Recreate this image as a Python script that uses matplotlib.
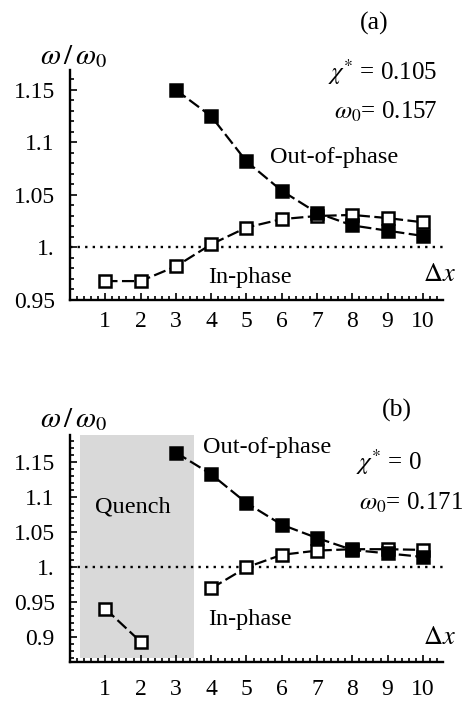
import matplotlib
matplotlib.use('Agg')
import matplotlib.pyplot as plt
from matplotlib.ticker import MultipleLocator, FixedLocator, FixedFormatter

plt.rcParams['font.family'] = ['Liberation Serif', 'DejaVu Serif']
plt.rcParams['mathtext.fontset'] = 'stix'

# panel (a): chi* = 0.105
xA = [1, 2, 3, 4, 5, 6, 7, 8, 9, 10]
inA = [0.968, 0.968, 0.982, 1.003, 1.019, 1.027, 1.030, 1.031, 1.028, 1.024]
xOutA = [3, 4, 5, 6, 7, 8, 9, 10]
outA = [1.150, 1.125, 1.082, 1.054, 1.033, 1.021, 1.016, 1.011]

# panel (b): chi* = 0
xInB1 = [1, 2]
inB1 = [0.940, 0.893]
xInB2 = [4, 5, 6, 7, 8, 9, 10]
inB2 = [0.969, 0.999, 1.017, 1.023, 1.025, 1.025, 1.024]
xOutB = [3, 4, 5, 6, 7, 8, 9, 10]
outB = [1.163, 1.132, 1.091, 1.060, 1.041, 1.024, 1.019, 1.014]

yticksA = [0.95, 1.0, 1.05, 1.1, 1.15]
ylabelsA = ['0.95', '1.', '1.05', '1.1', '1.15']
yticksB = [0.9, 0.95, 1.0, 1.05, 1.1, 1.15]
ylabelsB = ['0.9', '0.95', '1.', '1.05', '1.1', '1.15']

W, H = 466, 701
fig = plt.figure(figsize=(W / 100, H / 100), dpi=100)


def px(x, y):
    return x / W, 1 - y / H


def make_axes(rect, ylim, yticks, ylabels, xpad):
    ax = fig.add_axes(rect)
    for s in ['top', 'right']:
        ax.spines[s].set_visible(False)
    for s in ['left', 'bottom']:
        ax.spines[s].set_linewidth(1.7)
    ax.set_xlim(0, 10.57)
    ax.set_ylim(*ylim)
    ax.xaxis.set_major_locator(FixedLocator(range(1, 11)))
    ax.xaxis.set_minor_locator(MultipleLocator(0.2))
    ax.yaxis.set_major_locator(FixedLocator(yticks))
    ax.yaxis.set_major_formatter(FixedFormatter(ylabels))
    ax.yaxis.set_minor_locator(MultipleLocator(0.01))
    ax.tick_params(which='both', direction='in', width=1.2, labelsize=17)
    ax.tick_params(which='major', length=5)
    ax.tick_params(which='minor', length=3)
    ax.tick_params(axis='x', which='major', pad=8 + xpad - 9)
    ax.tick_params(axis='y', which='major', pad=11)
    ax.axhline(1.0, color='black', lw=1.7, linestyle=(0, (1.0, 2.2)))
    return ax


def draw(ax, x, y, filled):
    ax.plot(x, y, color='black', lw=1.6, linestyle=(0, (5.5, 2)),
            marker='s', markersize=9 if filled else 8.5,
            markerfacecolor='black' if filled else 'white',
            markeredgecolor='black', markeredgewidth=1.8, clip_on=False)


# ---- panel (a)
axA = make_axes([70 / W, 1 - 300 / H, 373 / W, 230 / H], (0.95, 1.169),
                yticksA, ylabelsA, 9)
draw(axA, xA, inA, False)
draw(axA, xOutA, outA, True)

# ---- panel (b)
axB = make_axes([70 / W, 1 - 662 / H, 373 / W, 227 / H], (0.864, 1.188),
                yticksB, ylabelsB, 13)
axB.axvspan(0.27, 3.5, ymin=0.017, ymax=1.0, color='#d9d9d9', lw=0, zorder=0)
draw(axB, xInB1, inB1, False)
draw(axB, xInB2, inB2, False)
draw(axB, xOutB, outB, True)

# ---- text labels
fs = 17.5
fig.text(*px(40, 57), r'$\omega\,/\,\omega_0$', fontsize=21, va='center', ha='left')
fig.text(*px(374, 23), '(a)', fontsize=18.5, va='center', ha='center')
fig.text(*px(437, 72), r'$\chi^{*}$ = 0.105', fontsize=18, va='center', ha='right')
fig.text(*px(437, 112), r'$\omega_0$= 0.157', fontsize=18, va='center', ha='right')
fig.text(*px(270, 158), 'Out-of-phase', fontsize=fs, va='center', ha='left')
fig.text(*px(208, 278), 'In-phase', fontsize=fs, va='center', ha='left')
fig.text(*px(439, 275), r'$\Delta x$', fontsize=19, va='center', ha='center')

fig.text(*px(40, 420), r'$\omega\,/\,\omega_0$', fontsize=21, va='center', ha='left')
fig.text(*px(397, 410), '(b)', fontsize=18.5, va='center', ha='center')
fig.text(*px(203, 448), 'Out-of-phase', fontsize=fs, va='center', ha='left')
fig.text(*px(422, 462), r'$\chi^{*}$ = 0', fontsize=18, va='center', ha='right')
fig.text(*px(463, 503), r'$\omega_0$= 0.171', fontsize=18, va='center', ha='right')
fig.text(*px(95, 507), 'Quench', fontsize=fs, va='center', ha='left')
fig.text(*px(208, 619), 'In-phase', fontsize=fs, va='center', ha='left')
fig.text(*px(439, 638), r'$\Delta x$', fontsize=19, va='center', ha='center')

fig.savefig('out.png', dpi=100)
